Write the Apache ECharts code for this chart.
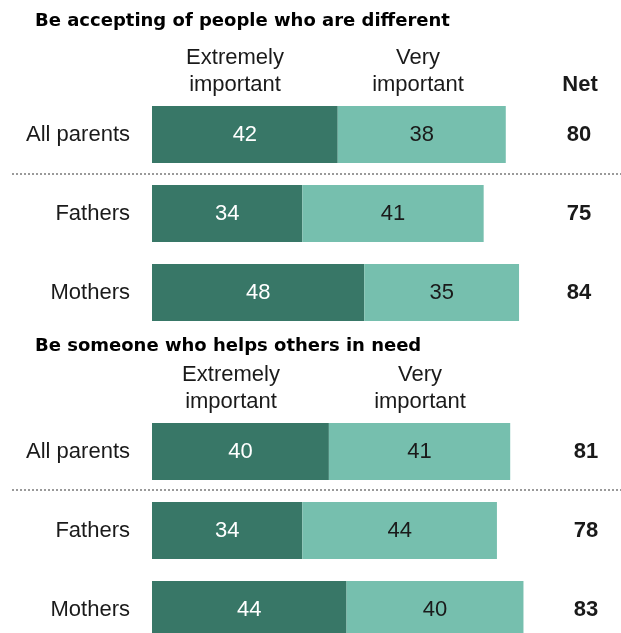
<!DOCTYPE html>
<html>
<head>
<meta charset="utf-8">
<script src="https://cdn.jsdelivr.net/npm/echarts@6/dist/echarts.min.js"></script>
<style>
html,body{margin:0;padding:0;background:#fff;}
#chart{width:621px;height:633px;}
</style>
</head>
<body>
<div id="chart"></div>
<script>
const categories = ['All parents', 'Fathers', 'Mothers'];
const panelTitles = ['Be accepting of people who are different', 'Be someone who helps others in need'];
const seriesNames = ['Extremely important', 'Very important'];
const headerLines = [['Extremely', 'important'], ['Very', 'important']];
const netHeader = 'Net';

const acceptExtremely = [42, 34, 48];
const acceptVery = [38, 41, 35];
const acceptNet = [80, 75, 84];

const helpExtremely = [40, 34, 44];
const helpVery = [41, 44, 40];
const helpNet = [81, 78, 83];

const DARK = '#387767';
const LIGHT = '#76bfae';
const TEXT = '#1a1a1a';
const FONT = '"Liberation Sans", Arial, sans-serif';
const TITLE_FONT = '"DejaVu Sans", "Liberation Sans", sans-serif';

const chart = echarts.init(document.getElementById('chart'), null, {renderer: 'canvas'});

// first and last row centres of each panel
const gridTops = [134.5, 451.5];
const netMargins = [29, 36];

const grids = gridTops.map(t => ({left: 152, width: 398, top: t, height: 158, containLabel: false}));

const xAxes = gridTops.map((t, i) => ({
  type: 'value', gridIndex: i, min: 0, max: 90, show: false
}));

const yAxes = [];
[acceptNet, helpNet].forEach((net, i) => {
  yAxes.push({
    type: 'category', gridIndex: i, data: categories, inverse: true, position: 'left',
    boundaryGap: false,
    axisLine: {show: false}, axisTick: {show: false}, splitLine: {show: false},
    axisLabel: {fontFamily: FONT, fontSize: 22, color: TEXT, margin: 22}
  });
  yAxes.push({
    type: 'category', gridIndex: i, data: net.map(String), inverse: true, position: 'right',
    boundaryGap: false,
    axisLine: {show: false}, axisTick: {show: false}, splitLine: {show: false},
    axisLabel: {fontFamily: FONT, fontSize: 22, fontWeight: 'bold', color: TEXT,
      margin: netMargins[i], align: 'center'}
  });
});

function barSeries(name, data, gi, color, labelColor) {
  return {
    name: name, type: 'bar', stack: 'panel' + gi, xAxisIndex: gi, yAxisIndex: gi * 2,
    data: data, barWidth: 57, clip: false, itemStyle: {color: color},
    label: {show: true, position: 'inside', fontFamily: FONT, fontSize: 22, color: labelColor},
    emphasis: {disabled: true}, animation: false
  };
}

const series = [
  barSeries(seriesNames[0], acceptExtremely, 0, DARK, '#ffffff'),
  barSeries(seriesNames[1], acceptVery, 0, LIGHT, TEXT),
  barSeries(seriesNames[0], helpExtremely, 1, DARK, '#ffffff'),
  barSeries(seriesNames[1], helpVery, 1, LIGHT, TEXT)
];

function txt(str, x, y, opts) {
  return {
    type: 'text', x: x, y: y, silent: true,
    style: Object.assign({text: str, fontFamily: FONT, fontSize: 22, fill: TEXT,
      align: 'center', verticalAlign: 'middle'}, opts || {})
  };
}

const graphics = [
  txt(panelTitles[0], 35, 21, {fontSize: 18, fontWeight: 'bold', align: 'left', fontFamily: TITLE_FONT, fill: '#000'}),
  txt(panelTitles[1], 35, 346, {fontSize: 18, fontWeight: 'bold', align: 'left', fontFamily: TITLE_FONT, fill: '#000'}),
  txt(headerLines[0][0], 235, 57.5), txt(headerLines[0][1], 235, 85),
  txt(headerLines[1][0], 418, 57.5), txt(headerLines[1][1], 418, 85),
  txt(netHeader, 580, 85, {fontWeight: 'bold'}),
  txt(headerLines[0][0], 231, 375), txt(headerLines[0][1], 231, 402),
  txt(headerLines[1][0], 420, 375), txt(headerLines[1][1], 420, 402),
  {type: 'line', silent: true, shape: {x1: 12, y1: 174, x2: 621, y2: 174},
    style: {stroke: '#9a9a9a', lineWidth: 2, lineDash: [2, 2]}},
  {type: 'line', silent: true, shape: {x1: 12, y1: 490, x2: 621, y2: 490},
    style: {stroke: '#9a9a9a', lineWidth: 2, lineDash: [2, 2]}}
];

chart.setOption({
  animation: false,
  backgroundColor: '#ffffff',
  grid: grids,
  xAxis: xAxes,
  yAxis: yAxes,
  series: series,
  graphic: graphics
});
</script>
</body>
</html>
